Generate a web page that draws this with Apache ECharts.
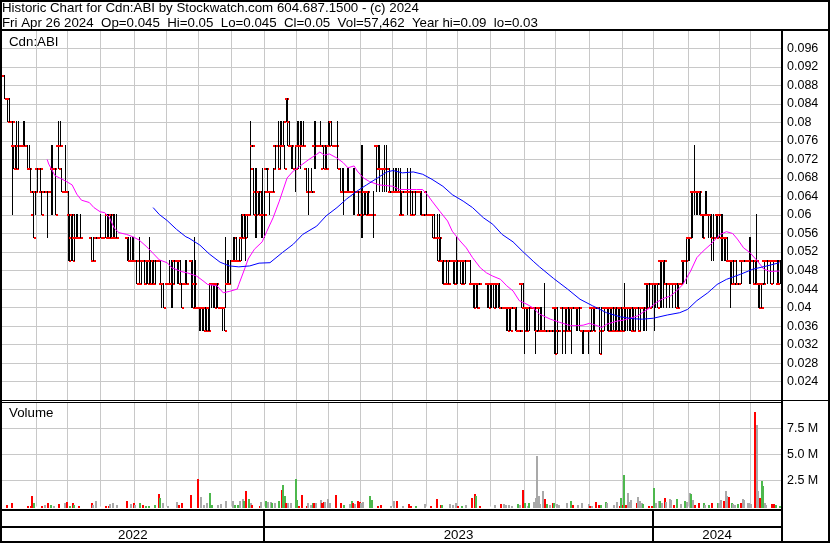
<!DOCTYPE html>
<html><head><meta charset="utf-8">
<script src="https://cdn.jsdelivr.net/npm/echarts/dist/echarts.min.js"></script>
<style>html,body{margin:0;padding:0;background:#fff}#c{width:830px;height:543px}</style>
</head><body><div id="c"></div>
<script>
// ---------------- data ----------------
const headerLine1 = 'Historic Chart for Cdn:ABI by Stockwatch.com 604.687.1500 - (c) 2024';
const headerLine2 = 'Fri Apr 26 2024  Op=0.045  Hi=0.05  Lo=0.045  Cl=0.05  Vol=57,462  Year hi=0.09  lo=0.03';
const symbolLabel = 'Cdn:ABI';
const volumeLabel = 'Volume';
const barCount = 500;                       // trading days, May 2 2022 .. Apr 26 2024
const yearLabels = ['2022', '2023', '2024'];
const yearStarts = [0, 168, 418];           // bar index where each year starts
const monthStarts = [22,42,63,85,105,126,147,168,189,209,230,250,272,292,313,335,355,377,398,418,440,460,480];
const priceMin = 0.02, priceMax = 0.1, priceStep = 0.004;
const volMin = 0, volMax = 10, volStep = 2.5; // millions of shares

const opens = [
.09,.09,.085,.085,.085,.08,.08,.075,.075,.07,.075,.075,.075,.075,.075,.075,.075,.07,.07,.065,
.06,.065,.07,.07,.07,.065,.065,.065,.065,.065,.065,.065,.07,.07,.07,.07,.075,.075,.07,.065,
.065,.065,.065,.06,.055,.06,.055,.055,.055,.055,.055,.055,.055,.055,.055,.055,.055,.055,.05,.055,
.055,.055,.055,.055,.055,.055,.055,.06,.055,.055,.06,.055,.055,.055,.055,.055,.055,.055,.055,.055,
.055,.055,.05,.05,.05,.05,.05,.045,.05,.045,.05,.05,.045,.05,.05,.05,.045,.05,.045,.05,
.05,.05,.045,.045,.045,.045,.045,.045,.045,.045,.05,.05,.05,.05,.05,.045,.045,.045,.045,.045,
.05,.05,.05,.045,.045,.04,.04,.04,.04,.04,.04,.035,.04,.04,.045,.045,.045,.045,.045,.04,
.04,.04,.04,.04,.045,.045,.045,.05,.05,.05,.05,.05,.05,.055,.055,.06,.055,.06,.06,.06,
.075,.07,.065,.06,.065,.065,.06,.06,.06,.07,.065,.065,.065,.065,.065,.075,.075,.075,.07,.075,
.075,.075,.08,.085,.08,.075,.075,.07,.07,.075,.075,.075,.075,.075,.075,.07,.065,.065,.065,.065,
.075,.075,.075,.075,.075,.075,.07,.075,.07,.075,.075,.08,.075,.075,.075,.075,.07,.07,.065,.065,
.065,.065,.065,.065,.065,.065,.065,.065,.065,.06,.065,.06,.065,.065,.065,.065,.06,.06,.06,.065,
.075,.075,.07,.07,.07,.07,.07,.07,.07,.065,.065,.065,.065,.065,.065,.065,.06,.065,.065,.065,
.065,.065,.065,.06,.06,.065,.065,.065,.065,.065,.06,.06,.065,.06,.06,.06,.06,.06,.055,.055,
.055,.055,.05,.05,.045,.05,.045,.05,.05,.05,.05,.05,.05,.05,.05,.05,.05,.05,.05,.05,
.05,.045,.045,.045,.045,.045,.045,.045,.045,.045,.045,.045,.045,.045,.045,.045,.045,.045,.045,.045,
.04,.04,.04,.04,.04,.04,.04,.04,.035,.04,.04,.035,.035,.045,.045,.04,.04,.04,.04,.04,
.04,.04,.04,.035,.04,.04,.035,.035,.035,.035,.035,.035,.035,.035,.04,.04,.04,.035,.035,.04,
.035,.04,.04,.04,.035,.04,.04,.04,.04,.04,.04,.035,.035,.035,.035,.035,.035,.035,.04,.04,
.04,.04,.04,.04,.035,.04,.04,.04,.04,.04,.04,.04,.04,.035,.04,.035,.04,.04,.035,.04,
.04,.04,.04,.04,.04,.035,.04,.04,.04,.035,.04,.04,.04,.045,.045,.045,.045,.045,.045,.045,
.045,.045,.05,.05,.05,.05,.045,.045,.045,.045,.045,.045,.045,.045,.04,.045,.045,.05,.05,.05,
.055,.055,.055,.065,.065,.065,.065,.065,.065,.06,.06,.06,.06,.06,.06,.06,.055,.055,.055,.06,
.06,.06,.055,.055,.055,.055,.05,.05,.05,.05,.045,.05,.045,.045,.05,.05,.05,.05,.05,.05,
.05,.05,.05,.045,.05,.045,.045,.045,.045,.05,.05,.05,.05,.05,.05,.05,.05,.05,.045,.045];

const highs = [
.09,.09,.085,.085,.085,.08,.08,.075,.075,.08,.08,.075,.075,.08,.08,.075,.075,.075,.07,.065,
.065,.065,.07,.07,.07,.065,.065,.065,.065,.065,.065,.075,.075,.07,.07,.07,.08,.08,.07,.065,
.075,.065,.065,.06,.06,.06,.06,.06,.06,.055,.06,.055,.055,.055,.055,.055,.055,.055,.055,.055,
.055,.055,.055,.06,.055,.055,.06,.06,.06,.06,.06,.06,.06,.06,.055,.055,.055,.055,.055,.055,
.055,.055,.055,.055,.055,.05,.05,.045,.055,.05,.05,.05,.05,.05,.055,.05,.05,.05,.05,.05,
.05,.05,.045,.045,.045,.045,.045,.05,.05,.05,.05,.05,.05,.05,.05,.045,.045,.05,.05,.045,
.05,.05,.05,.055,.05,.04,.04,.04,.04,.04,.04,.04,.04,.045,.045,.045,.045,.045,.045,.04,
.04,.04,.04,.055,.05,.05,.05,.05,.055,.055,.055,.05,.055,.06,.06,.06,.06,.06,.06,.08,
.075,.07,.07,.07,.065,.065,.065,.07,.065,.07,.07,.065,.065,.065,.07,.075,.075,.08,.08,.08,
.08,.075,.085,.085,.08,.075,.075,.07,.075,.08,.08,.08,.08,.08,.075,.07,.07,.065,.07,.065,
.08,.08,.075,.075,.08,.075,.075,.075,.075,.08,.08,.08,.075,.075,.075,.08,.07,.07,.07,.07,
.065,.07,.07,.065,.065,.07,.07,.065,.065,.06,.075,.075,.065,.065,.065,.065,.06,.06,.065,.065,
.075,.075,.075,.07,.07,.075,.075,.07,.07,.065,.065,.07,.07,.07,.07,.07,.065,.065,.065,.065,
.07,.065,.07,.065,.06,.065,.065,.065,.065,.065,.06,.06,.065,.06,.06,.06,.06,.06,.055,.06,
.06,.055,.05,.05,.045,.05,.05,.05,.05,.05,.05,.055,.05,.05,.05,.05,.05,.05,.05,.05,
.05,.045,.045,.045,.045,.045,.045,.045,.045,.045,.045,.045,.045,.045,.045,.045,.045,.045,.045,.045,
.04,.04,.04,.04,.04,.04,.04,.04,.035,.04,.04,.035,.035,.045,.045,.04,.04,.04,.04,.04,
.04,.04,.04,.035,.04,.04,.04,.035,.045,.035,.035,.035,.035,.035,.04,.04,.04,.035,.035,.04,
.035,.04,.04,.04,.04,.04,.04,.04,.04,.04,.04,.035,.035,.035,.035,.035,.035,.035,.04,.04,
.04,.04,.04,.04,.04,.04,.04,.04,.04,.04,.04,.04,.04,.04,.04,.04,.04,.04,.04,.045,
.04,.04,.04,.04,.04,.04,.04,.04,.04,.04,.04,.04,.04,.045,.045,.045,.045,.045,.045,.045,
.045,.045,.05,.05,.05,.05,.045,.045,.045,.045,.045,.045,.045,.045,.045,.045,.05,.05,.05,.055,
.055,.055,.065,.065,.075,.065,.065,.065,.065,.06,.06,.065,.065,.06,.06,.06,.06,.055,.06,.06,
.06,.06,.06,.055,.055,.055,.05,.05,.05,.05,.045,.05,.045,.045,.05,.05,.05,.05,.05,.055,
.055,.05,.05,.05,.06,.045,.045,.045,.045,.05,.05,.05,.05,.05,.05,.05,.05,.05,.05,.05];

const lows = [
.09,.085,.085,.08,.08,.08,.06,.07,.07,.07,.07,.075,.075,.075,.075,.075,.07,.07,.065,.065,
.055,.06,.065,.07,.065,.06,.065,.065,.065,.055,.065,.06,.06,.07,.06,.07,.07,.075,.065,.065,
.065,.065,.05,.05,.05,.05,.05,.055,.055,.055,.055,.055,.055,.055,.055,.055,.055,.05,.05,.055,
.055,.055,.055,.055,.055,.055,.055,.055,.055,.055,.055,.055,.055,.055,.055,.055,.055,.055,.055,.055,
.05,.05,.05,.05,.05,.05,.045,.045,.045,.045,.05,.045,.045,.045,.045,.045,.045,.045,.045,.05,
.05,.045,.04,.04,.045,.045,.045,.045,.04,.04,.045,.05,.045,.045,.045,.04,.045,.045,.045,.045,
.05,.04,.04,.04,.04,.04,.035,.035,.035,.035,.035,.035,.035,.035,.04,.04,.04,.04,.04,.04,
.04,.035,.035,.04,.045,.045,.045,.05,.05,.05,.05,.05,.05,.05,.055,.055,.05,.055,.06,.06,
.075,.06,.055,.055,.06,.06,.055,.055,.055,.07,.065,.06,.065,.065,.065,.07,.075,.07,.07,.075,
.075,.07,.08,.075,.075,.07,.07,.07,.065,.075,.07,.07,.075,.075,.075,.065,.06,.065,.065,.065,
.07,.07,.075,.075,.075,.075,.07,.07,.07,.075,.075,.075,.075,.075,.075,.07,.07,.065,.065,.06,
.065,.065,.065,.065,.065,.06,.06,.065,.06,.06,.055,.055,.06,.06,.06,.06,.06,.06,.055,.065,
.065,.07,.065,.07,.065,.065,.065,.07,.065,.065,.065,.065,.065,.065,.065,.06,.06,.065,.065,.065,
.06,.065,.06,.06,.06,.06,.065,.065,.06,.06,.06,.06,.06,.06,.06,.06,.055,.055,.055,.05,
.05,.05,.045,.045,.045,.045,.045,.05,.05,.045,.045,.045,.045,.05,.045,.045,.045,.045,.05,.05,
.045,.045,.04,.04,.04,.04,.045,.045,.045,.045,.045,.04,.04,.04,.04,.04,.04,.04,.04,.04,
.04,.04,.04,.035,.035,.035,.035,.04,.035,.035,.035,.035,.035,.04,.04,.03,.035,.035,.035,.04,
.04,.035,.03,.035,.035,.035,.035,.035,.035,.035,.035,.035,.035,.035,.03,.03,.03,.035,.035,.03,
.035,.03,.035,.035,.035,.03,.04,.04,.035,.035,.035,.035,.03,.03,.035,.035,.03,.035,.035,.035,
.035,.04,.04,.03,.03,.04,.035,.04,.035,.035,.035,.035,.035,.035,.035,.035,.035,.035,.035,.035,
.035,.035,.035,.035,.035,.035,.035,.04,.035,.035,.04,.035,.035,.035,.04,.04,.045,.04,.035,.04,
.04,.045,.04,.04,.04,.045,.04,.045,.04,.045,.04,.045,.04,.04,.04,.045,.045,.045,.05,.045,
.05,.05,.055,.055,.06,.06,.06,.06,.06,.055,.055,.06,.06,.055,.055,.05,.05,.055,.055,.055,
.055,.05,.05,.05,.05,.05,.05,.04,.045,.045,.045,.045,.045,.045,.045,.05,.05,.05,.05,.045,
.045,.05,.045,.045,.045,.04,.04,.04,.045,.045,.05,.045,.05,.045,.05,.045,.05,.045,.045,.045];

const closes = [
.09,.085,.085,.08,.08,.08,.08,.075,.07,.07,.075,.075,.075,.075,.075,.075,.07,.07,.065,.065,
.055,.065,.07,.07,.07,.06,.065,.065,.065,.065,.065,.07,.07,.07,.06,.07,.075,.075,.065,.065,
.065,.065,.05,.055,.06,.05,.055,.055,.055,.055,.055,.055,.055,.055,.055,.055,.055,.05,.05,.055,
.055,.055,.055,.055,.055,.055,.055,.055,.055,.06,.055,.055,.055,.055,.055,.055,.055,.055,.055,.055,
.05,.05,.05,.05,.05,.05,.045,.045,.045,.05,.05,.045,.05,.045,.05,.045,.05,.045,.05,.05,
.05,.045,.045,.04,.045,.045,.045,.045,.045,.045,.05,.05,.05,.05,.045,.04,.045,.045,.045,.045,
.05,.045,.04,.045,.04,.04,.04,.04,.04,.035,.035,.035,.035,.045,.045,.045,.04,.045,.04,.04,
.04,.04,.035,.045,.045,.045,.05,.05,.05,.055,.05,.05,.055,.055,.06,.055,.06,.06,.06,.075,
.075,.065,.06,.065,.065,.06,.06,.06,.06,.07,.065,.065,.065,.065,.07,.075,.075,.07,.075,.075,
.08,.07,.085,.075,.075,.075,.07,.07,.07,.075,.075,.075,.075,.075,.075,.065,.065,.065,.065,.065,
.075,.075,.075,.075,.075,.075,.07,.07,.07,.075,.08,.075,.075,.075,.075,.07,.07,.065,.065,.065,
.065,.065,.065,.065,.065,.065,.065,.065,.06,.06,.06,.065,.065,.06,.065,.06,.06,.06,.06,.065,
.07,.07,.07,.07,.07,.07,.07,.07,.065,.065,.065,.065,.065,.065,.065,.06,.06,.065,.065,.065,
.065,.065,.06,.06,.06,.065,.065,.065,.06,.06,.06,.06,.06,.06,.06,.06,.055,.055,.055,.05,
.055,.05,.045,.045,.045,.045,.045,.05,.05,.045,.045,.05,.05,.05,.045,.045,.05,.05,.05,.05,
.045,.045,.04,.045,.04,.04,.045,.045,.045,.045,.045,.045,.04,.045,.045,.04,.045,.045,.04,.04,
.04,.04,.04,.04,.035,.04,.035,.04,.035,.035,.035,.035,.035,.04,.04,.035,.035,.04,.04,.04,
.04,.035,.035,.035,.035,.035,.035,.035,.035,.035,.035,.035,.035,.035,.03,.035,.035,.035,.035,.035,
.035,.035,.035,.035,.04,.04,.04,.04,.04,.04,.04,.035,.035,.035,.035,.035,.035,.035,.04,.035,
.04,.04,.04,.03,.035,.04,.04,.04,.035,.035,.035,.04,.035,.04,.035,.035,.04,.035,.035,.04,
.04,.04,.04,.035,.035,.035,.04,.04,.035,.04,.04,.04,.04,.04,.045,.04,.045,.045,.045,.045,
.04,.045,.05,.05,.045,.05,.045,.045,.045,.045,.045,.045,.04,.04,.045,.045,.05,.05,.05,.055,
.055,.055,.065,.065,.065,.065,.065,.065,.06,.055,.06,.06,.06,.06,.055,.055,.055,.055,.055,.06,
.055,.055,.055,.055,.05,.05,.05,.045,.045,.045,.045,.045,.045,.045,.05,.05,.05,.05,.05,.05,
.05,.05,.045,.045,.05,.04,.04,.04,.045,.05,.05,.05,.05,.045,.05,.05,.05,.05,.05,.05];

// volume in millions of shares
const volumes = [
0,0,0,.12,0,0,.3,0,0,0,0,0,0,0,0,0,.09,0,.09,1,
.35,0,0,0,0,.09,0,.18,0,.3,0,.18,0,.09,0,0,.2,0,0,0,
.3,.47,0,.09,0,.35,.15,0,0,.09,0,0,0,0,0,0,0,.3,.15,0,
.53,0,0,0,0,0,.09,0,.09,.24,0,.35,0,.15,0,0,0,0,0,0,
.53,0,.24,0,.35,.15,0,0,.35,0,.15,0,.09,0,.09,0,0,0,.18,0,
1.18,.82,0,.35,0,0,.09,0,0,0,0,0,.41,.18,0,.3,0,0,0,0,
0,1.09,0,0,0,2.6,0,.88,0,.15,0,.35,0,1.32,.15,0,0,0,.15,0,
.24,0,0,.53,0,0,0,0,.53,.15,0,.15,.53,0,.74,.53,1.47,0,.74,.35,
.18,0,0,0,0,.09,.47,0,0,.53,.44,0,.41,.35,0,.3,0,.53,0,1.62,
2.05,1,.3,.3,0,.35,0,0,2.6,.65,.09,0,1.12,0,0,.09,.3,0,.15,.3,
.35,.35,0,0,.59,.35,.47,.44,0,.7,.35,0,0,0,1.06,0,0,.3,0,.15,
0,0,0,.24,.53,.35,.24,0,.53,.44,.3,.44,0,0,0,0,1.03,.65,0,0,
0,.09,0,.15,0,0,0,0,0,.09,0,.53,0,.53,0,0,0,.09,0,0,
0,.24,.09,0,0,.09,0,0,0,0,0,.24,0,0,0,.09,0,0,0,.7,
0,.18,.15,0,0,0,0,.24,0,.15,0,.3,.09,0,0,.09,0,.15,0,0,
0,.82,0,1.24,1.03,0,.09,0,0,0,0,0,0,0,0,0,.15,0,0,0,
.24,0,.24,.18,0,.15,0,.09,0,0,0,.24,.15,0,1.62,.35,0,.09,.3,0,
0,.44,.82,4.9,1.03,.24,0,1.53,.74,.24,0,.15,0,.35,.35,0,.24,.18,0,0,
0,0,.35,0,0,.53,.15,0,0,.15,0,0,.35,0,0,0,.24,.09,.09,0,
0,.44,0,.15,.15,0,0,.44,.35,0,0,0,.15,0,.44,0,.09,.82,.15,3,
.15,1.32,.44,.65,0,0,0,.35,.94,.53,.3,.24,0,0,0,.09,0,.09,1.82,.35,
0,.53,.53,.35,0,.82,.44,0,.74,.65,0,.15,0,.74,0,.24,0,0,.53,.44,
0,1.32,1.18,.65,.15,0,0,.3,0,0,.3,.15,0,.15,0,.3,0,0,0,.35,
.35,.65,0,.53,1.53,1.03,.94,0,.35,.24,.15,0,.24,0,.35,.74,.65,0,.35,.35,
.2,0,0,9.1,7.85,1.5,.8,2.5,2,.3,.15,0,0,0,.24,.2,.1,0,0,.057];

// day's move as drawn on the volume bars: 1 up (green), -1 down (red), 0 unchanged (grey)
const volumeDir = [
0,0,0,-1,0,0,-1,0,0,0,0,0,0,0,0,0,-1,0,-1,-1,
1,0,0,0,0,-1,0,0,0,-1,0,1,0,0,0,0,-1,0,0,0,
0,-1,0,1,0,-1,1,0,0,-1,0,0,0,0,0,0,0,-1,0,0,
0,0,0,0,0,0,-1,0,-1,0,0,0,0,0,0,0,0,0,0,0,
-1,0,0,0,-1,0,0,0,1,0,-1,0,1,0,1,0,0,0,1,0,
-1,1,0,0,0,0,0,0,0,0,0,0,0,-1,0,-1,0,0,0,0,
0,-1,0,0,0,-1,0,0,0,0,0,0,0,1,1,0,0,0,0,0,
0,0,0,0,0,0,0,0,0,1,0,1,0,0,0,1,-1,0,1,0,
-1,0,0,0,0,-1,0,0,0,1,0,0,0,1,0,0,0,1,0,-1,
1,1,-1,0,0,0,0,0,1,1,-1,0,-1,0,0,-1,0,0,0,1,
-1,0,0,0,0,-1,-1,0,0,0,0,0,0,0,-1,0,0,-1,0,1,
0,0,0,0,1,-1,0,0,-1,-1,0,0,0,0,0,0,1,1,0,0,
0,-1,0,-1,0,0,0,0,0,0,0,0,0,-1,0,0,0,0,0,0,
0,-1,-1,0,0,1,0,0,0,0,0,0,0,0,0,-1,0,0,0,-1,
0,-1,1,0,0,0,0,0,0,0,0,0,-1,0,0,1,0,0,0,0,
0,-1,0,-1,1,0,-1,0,0,0,0,0,0,0,0,0,0,0,0,0,
-1,0,0,0,0,0,0,0,0,0,0,1,0,0,-1,1,0,0,1,0,
0,0,0,0,0,0,0,0,-1,1,0,0,0,-1,1,0,0,0,0,0,
0,0,0,0,0,1,-1,0,0,0,0,0,0,0,0,0,0,-1,0,0,
0,-1,0,-1,1,0,0,1,0,0,0,0,0,0,0,0,-1,1,-1,1,
-1,0,0,0,0,0,0,-1,0,0,0,1,0,0,0,-1,0,-1,1,0,
0,0,1,0,0,-1,0,0,0,0,0,-1,0,1,0,0,0,0,1,0,
0,0,1,0,-1,0,0,-1,0,0,1,0,0,1,0,-1,0,0,0,1,
0,0,0,-1,0,0,-1,0,1,0,0,0,1,0,-1,0,0,0,0,0,
0,0,0,-1,0,0,-1,1,1,0,0,0,0,0,-1,-1,1,0,0,1];

// moving averages: [bar index, price]
const maShort = [[29,.072],[30,.071],[34,.0685],[37,.068],[41,.0673],[45,.0665],[48,.0645],[51,.0632],[56,.0627],[59,.0616],[63,.0607],[66,.0605],[69,.0594],[72,.0572],[75,.0562],[80,.0558],[84,.0553],[88,.0546],[93,.0531],[97,.0517],[101,.0503],[106,.0497],[109,.0486],[115,.0478],[119,.0475],[125,.0468],[129,.0458],[132,.045],[138,.0447],[142,.0432],[146,.0435],[151,.044],[152,.045],[156,.0486],[158,.0505],[162,.0526],[167,.0542],[170,.0565],[174,.0594],[178,.063],[183,.068],[187,.0695],[191,.0705],[197,.072],[202,.0731],[204,.0736],[207,.0729],[210,.0732],[215,.0723],[219,.0713],[222,.0702],[226,.0706],[228,.0695],[232,.068],[236,.0672],[242,.0665],[251,.0662],[255,.0655],[266,.0655],[270,.0655],[273,.0644],[276,.063],[281,.0608],[286,.0587],[289,.0565],[294,.0544],[298,.0529],[302,.0508],[307,.0486],[311,.0475],[315,.0468],[320,.0461],[324,.0447],[328,.0436],[332,.0415],[337,.0407],[341,.0399],[345,.0386],[352,.0375],[358,.0368],[365,.0361],[369,.0361],[373,.0362],[377,.0366],[382,.0361],[385,.0357],[388,.0364],[395,.0371],[399,.0373],[403,.0377],[408,.0382],[411,.0389],[416,.040],[420,.0411],[424,.0419],[429,.0425],[433,.0436],[437,.045],[442,.0479],[446,.0508],[450,.0522],[455,.0537],[458,.0548],[461,.0558],[465,.0564],[469,.056],[472,.0548],[476,.0529],[480,.0519],[485,.050],[489,.0483],[493,.0478],[499,.0479]];
const maLong = [[97,.0616],[101,.0601],[106,.0588],[112,.0569],[118,.0553],[120,.055],[127,.0535],[133,.0516],[140,.0498],[146,.049],[152,.0488],[159,.049],[165,.0496],[172,.0497],[180,.0519],[187,.0537],[193,.0558],[202,.0576],[208,.0598],[215,.0616],[221,.0634],[228,.0652],[234,.0665],[241,.068],[247,.0693],[251,.0696],[257,.0691],[264,.0693],[270,.0688],[276,.0677],[283,.0662],[289,.0644],[296,.063],[302,.0616],[309,.0594],[315,.058],[321,.0558],[328,.0542],[334,.0522],[341,.050],[345,.0488],[354,.0463],[363,.044],[371,.0418],[379,.0404],[388,.0389],[397,.038],[405,.0376],[411,.0375],[418,.0377],[427,.0384],[435,.0389],[440,.0396],[446,.0415],[453,.0432],[459,.045],[465,.0461],[474,.0472],[482,.0483],[491,.049],[499,.0497]];

// ---------------- chart ----------------
const FONT = '"Liberation Sans", Arial, sans-serif';
const GRID_COLOR = '#c8c8c8';
const VOL_COLORS = { '1': '#4db84d', '-1': '#ff0000', '0': '#a9a9a9' };

// a day with no volume and no range had no trade: no bar is drawn for it
const ohlcData = opens.map((o, i) => [i, o, highs[i], lows[i], closes[i]])
  .filter(d => volumes[d[0]] > 0 || d[2] !== d[3]);
const volData = volumes.map((v, i) => [i, v, volumeDir[i]]);
const monthData = monthStarts.map(m => [m, 0]);
const yearData = yearStarts.map((s, k) => [s, k]);

function monthLines(yMid) {
  return function (params, api) {
    const cs = params.coordSys;
    const x = Math.round(api.coord([api.value(0), yMid])[0]);
    return { type: 'rect', shape: { x: x, y: cs.y, width: 1, height: cs.height }, style: { fill: GRID_COLOR } };
  };
}

function renderOHLC(params, api) {
  const i = api.value(0);
  const pO = api.coord([i + 0.5, api.value(1)]);
  const pH = api.coord([i + 0.5, api.value(2)]);
  const pL = api.coord([i + 0.5, api.value(3)]);
  const pC = api.coord([i + 0.5, api.value(4)]);
  const x = Math.floor(pH[0]);
  const yH = Math.round(pH[1]), yL = Math.round(pL[1]);
  return { type: 'group', children: [
    { type: 'rect', shape: { x: x - 2, y: Math.round(pO[1]) - 1, width: 2, height: 2 }, style: { fill: '#ff0000' } },
    { type: 'rect', shape: { x: x + 1, y: Math.round(pC[1]) - 1, width: 2, height: 2 }, style: { fill: '#ff0000' } },
    { type: 'rect', shape: { x: x, y: yH - 1, width: 1, height: Math.max(2, yL - yH + 1) }, style: { fill: '#000' } }
  ] };
}

function renderVolume(params, api) {
  const i = api.value(0), v = api.value(1), d = api.value(2);
  if (!v) return null;
  const p = api.coord([i + 0.5, v]);
  const p0 = api.coord([i + 0.5, 0]);
  const x = Math.round(p[0] - 1);
  const y = Math.round(p[1]);
  const y0 = Math.round(p0[1]) + 1;
  return { type: 'rect', shape: { x: x, y: Math.min(y, y0 - 1), width: 2, height: Math.max(1, y0 - y) },
           style: { fill: VOL_COLORS[String(d)] } };
}

function renderYears(params, api) {
  const s = api.value(0), k = api.value(1);
  const e = k + 1 < yearStarts.length ? yearStarts[k + 1] : barCount;
  const cs = params.coordSys;
  const x1 = api.coord([s, 0.5])[0], x2 = api.coord([e, 0.5])[0];
  const children = [{ type: 'text', x: (x1 + x2) / 2, y: cs.y + 24,
    style: { text: yearLabels[k], font: '13.3px ' + FONT, fill: '#000', align: 'center', verticalAlign: 'middle', textAlign: 'center', textVerticalAlign: 'middle' } }];
  if (s > 0) children.push({ type: 'rect', shape: { x: Math.round(x1) - 1, y: cs.y, width: 2, height: cs.height }, style: { fill: '#000' } });
  return { type: 'group', children: children };
}

const gridBase = { left: 2, width: 779, outerBoundsMode: 'none', containLabel: false };
const option = {
  animation: false,
  backgroundColor: '#fff',
  grid: [
    Object.assign({ top: 29.8, height: 370.4 }, gridBase),
    Object.assign({ top: 402.5, height: 104 }, gridBase),
    Object.assign({ top: 511, height: 30 }, gridBase)
  ],
  xAxis: [0, 1, 2].map(k => ({ type: 'value', gridIndex: k, min: 0, max: barCount, show: false })),
  yAxis: [
    { type: 'value', gridIndex: 0, position: 'right', min: priceMin, max: priceMax, interval: priceStep,
      axisLine: { show: false }, axisTick: { show: false },
      axisLabel: { margin: 6, color: '#000', fontFamily: FONT, fontSize: 12.5, showMinLabel: false, showMaxLabel: false,
                   formatter: v => String(+v.toFixed(3)) },
      splitLine: { show: true, showMinLine: false, showMaxLine: false, lineStyle: { color: GRID_COLOR, width: 1 } } },
    { type: 'value', gridIndex: 1, position: 'right', min: volMin, max: volMax, interval: volStep,
      axisLine: { show: false }, axisTick: { show: false },
      axisLabel: { margin: 6, color: '#000', fontFamily: FONT, fontSize: 12.5, showMinLabel: false, showMaxLabel: false,
                   formatter: v => (v <= volMin || v >= volMax) ? '' : v.toFixed(1) + ' M' },
      splitLine: { show: true, showMinLine: false, showMaxLine: false, lineStyle: { color: GRID_COLOR, width: 1 } } },
    { type: 'value', gridIndex: 2, min: 0, max: 1, show: false }
  ],
  series: [
    { type: 'custom', name: 'monthsPrice', xAxisIndex: 0, yAxisIndex: 0, data: monthData, renderItem: monthLines(0.05), silent: true, z: 1 },
    { type: 'custom', name: 'monthsVol', xAxisIndex: 1, yAxisIndex: 1, data: monthData, renderItem: monthLines(5), silent: true, z: 1 },
    { type: 'custom', name: 'ohlc', xAxisIndex: 0, yAxisIndex: 0, data: ohlcData, renderItem: renderOHLC, silent: true, z: 3 },
    { type: 'line', name: 'maShort', xAxisIndex: 0, yAxisIndex: 0, data: maShort, showSymbol: false, symbol: 'none',
      lineStyle: { color: '#ff00ff', width: 1 }, silent: true, z: 4 },
    { type: 'line', name: 'maLong', xAxisIndex: 0, yAxisIndex: 0, data: maLong, showSymbol: false, symbol: 'none',
      lineStyle: { color: '#0000ff', width: 1 }, silent: true, z: 4 },
    { type: 'custom', name: 'volume', xAxisIndex: 1, yAxisIndex: 1, data: volData, renderItem: renderVolume, silent: true, z: 3 },
    { type: 'custom', name: 'years', xAxisIndex: 2, yAxisIndex: 2, data: yearData, renderItem: renderYears, silent: true, z: 3 }
  ],
  graphic: { elements: [
    { type: 'rect', z: 100, silent: true, shape: { x: 0, y: 29, width: 830, height: 2 }, style: { fill: '#000' } },
    { type: 'rect', z: 100, silent: true, shape: { x: 781, y: 30, width: 2, height: 513 }, style: { fill: '#000' } },
    { type: 'rect', z: 100, silent: true, shape: { x: 0, y: 400, width: 781, height: 1 }, style: { fill: '#000' } },
    { type: 'rect', z: 100, silent: true, shape: { x: 0, y: 402, width: 781, height: 1 }, style: { fill: '#000' } },
    { type: 'rect', z: 100, silent: true, shape: { x: 783, y: 400, width: 46, height: 1 }, style: { fill: '#000' } },
    { type: 'rect', z: 100, silent: true, shape: { x: 0, y: 509, width: 781, height: 2 }, style: { fill: '#000' } },
    { type: 'rect', z: 100, silent: true, shape: { x: 0, y: 526, width: 781, height: 2 }, style: { fill: '#000' } },
    { type: 'rect', z: 100, silent: true, shape: { x: 1, y: 1, width: 828, height: 541 }, style: { fill: 'none', stroke: '#000', lineWidth: 2 } },
    { type: 'text', z: 100, silent: true, x: 2, y: 8.5, style: { text: headerLine1, font: '13.3px ' + FONT, fill: '#000', textVerticalAlign: 'middle', verticalAlign: 'middle' } },
    { type: 'text', z: 100, silent: true, x: 2, y: 23.5, style: { text: headerLine2, font: '13.3px ' + FONT, fill: '#000', textVerticalAlign: 'middle', verticalAlign: 'middle' } },
    { type: 'text', z: 100, silent: true, x: 9, y: 42, style: { text: symbolLabel, font: '13.3px ' + FONT, fill: '#000', textVerticalAlign: 'middle', verticalAlign: 'middle' } },
    { type: 'text', z: 100, silent: true, x: 9, y: 413.5, style: { text: volumeLabel, font: '13.3px ' + FONT, fill: '#000', textVerticalAlign: 'middle', verticalAlign: 'middle' } }
  ] }
};

const chart = echarts.init(document.getElementById('c'), null, { renderer: 'canvas', width: 830, height: 543 });
chart.setOption(option);
</script>
</body></html>
